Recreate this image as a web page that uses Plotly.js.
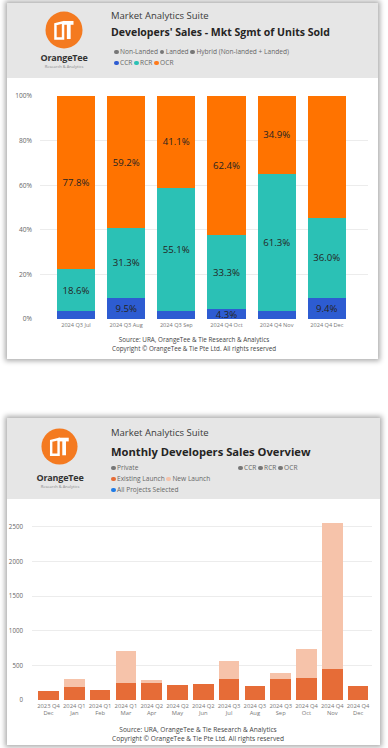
<!DOCTYPE html>
<html>
<head>
<meta charset="utf-8">
<script src="https://cdn.plot.ly/plotly-3.0.1.min.js"></script>
<style>
  html, body { margin:0; padding:0; background:#ffffff; }
  body { width:388px; height:748px; position:relative; overflow:hidden;
         font-family:"Segoe UI","Open Sans","Noto Sans",sans-serif; color:#333; }
  .card { position:absolute; background:#fff; box-shadow:0 0 5px 2px rgba(0,0,0,0.33); }
  .hdr { position:absolute; left:0; top:0; right:0; background:#e6e6e6; }
  .abs { position:absolute; white-space:nowrap; }
  .suite { font-size:9.5px; color:#3a3a3a; }
  .title { font-weight:700; color:#252423; }
  .leg { font-size:6.6px; color:#666; }
  .dot { display:inline-block; width:4.5px; height:4.5px; border-radius:50%; margin-right:1.5px; vertical-align:0px; }
  .src { font-size:6.3px; color:#444; text-align:center; width:388px; left:0; }
  .brand { font-weight:700; color:#333; font-size:9px; text-align:center; width:80px; letter-spacing:-0.2px; }
  .brandsub { color:#888; font-size:4px; text-align:center; width:80px; }
  .plot { position:absolute; left:0; width:388px; }
</style>
</head>
<body>

<!-- top card -->
<div class="card" style="left:7px; top:3px; width:371px; height:356px;">
  <div class="hdr" style="height:75px;"></div>
</div>
<!-- bottom card -->
<div class="card" style="left:7px; top:418px; width:373px; height:327px;">
  <div class="hdr" style="height:81px;"></div>
</div>

<!-- top header contents -->
<svg class="abs" style="left:45px; top:11px;" width="38" height="38" viewBox="0 0 40 40">
  <circle cx="20" cy="20" r="19.5" fill="#f47a20"/>
  <path d="M11,14 L19,12 L19,29 L11,29 Z" fill="none" stroke="#fff" stroke-width="2.6" stroke-linejoin="miter"/>
  <rect x="19" y="10.5" width="11" height="4" fill="#fff"/>
  <rect x="23" y="13" width="4" height="16.5" fill="#fff"/>
</svg>
<div class="abs brand" style="left:24px; top:51px;">OrangeTee</div>
<div class="abs brandsub" style="left:24px; top:63.5px;">Research &amp; Analytics</div>
<div class="abs suite" style="left:111px; top:9px;">Market Analytics Suite</div>
<div class="abs title" style="left:111px; top:25px; font-size:10.5px;">Developers' Sales - Mkt Sgmt of Units Sold</div>
<div class="abs leg" style="left:114px; top:47px;"><span class="dot" style="background:#777"></span>Non-Landed <span class="dot" style="background:#777"></span>Landed <span class="dot" style="background:#777"></span>Hybrid (Non-landed + Landed)</div>
<div class="abs leg" style="left:114px; top:58px;"><span class="dot" style="background:#2d5cd2"></span>CCR <span class="dot" style="background:#2bc1b5"></span>RCR <span class="dot" style="background:#ff7a1a"></span>OCR</div>

<div id="chart1" class="plot" style="top:80px; height:280px;"></div>
<div class="abs src" style="top:335px;">Source: URA, OrangeTee &amp; Tie Research &amp; Analytics</div>
<div class="abs src" style="top:344px;">Copyright © OrangeTee &amp; Tie Pte Ltd. All rights reserved</div>

<!-- bottom header contents -->
<svg class="abs" style="left:41px; top:428px;" width="37" height="37" viewBox="0 0 40 40">
  <circle cx="20" cy="20" r="19.5" fill="#f47a20"/>
  <path d="M11,14 L19,12 L19,29 L11,29 Z" fill="none" stroke="#fff" stroke-width="2.6" stroke-linejoin="miter"/>
  <rect x="19" y="10.5" width="11" height="4" fill="#fff"/>
  <rect x="23" y="13" width="4" height="16.5" fill="#fff"/>
</svg>
<div class="abs brand" style="left:20px; top:471px;">OrangeTee</div>
<div class="abs brandsub" style="left:20px; top:483.5px;">Research &amp; Analytics</div>
<div class="abs suite" style="left:111px; top:426px;">Market Analytics Suite</div>
<div class="abs title" style="left:111px; top:444px; font-size:11.2px;">Monthly Developers Sales Overview</div>
<div class="abs leg" style="left:111px; top:463px;"><span class="dot" style="background:#777"></span>Private</div>
<div class="abs leg" style="left:238px; top:463px;"><span class="dot" style="background:#777"></span>CCR <span class="dot" style="background:#777"></span>RCR <span class="dot" style="background:#777"></span>OCR</div>
<div class="abs leg" style="left:111px; top:474px;"><span class="dot" style="background:#e66c37"></span>Existing Launch <span class="dot" style="background:#f6c3aa"></span>New Launch</div>
<div class="abs leg" style="left:111px; top:485px;"><span class="dot" style="background:#1f7be6"></span>All Projects Selected</div>

<div id="chart2" class="plot" style="top:500px; height:245px;"></div>
<div class="abs src" style="top:725px; font-size:6.6px; left:4px;">Source: URA, OrangeTee &amp; Tie Research &amp; Analytics</div>
<div class="abs src" style="top:733.5px; font-size:6.6px; left:4px;">Copyright © OrangeTee &amp; Tie Pte Ltd. All rights reserved</div>

<script>
// ---------- Chart 1 data: market segment share of developer units sold (%) ----------
const segMonths = ['2024 Q3 Jul', '2024 Q3 Aug', '2024 Q3 Sep', '2024 Q4 Oct', '2024 Q4 Nov', '2024 Q4 Dec'];
const ccrShare = [3.6, 9.5, 3.8, 4.3, 3.8, 9.4];
const rcrShare = [18.6, 31.3, 55.1, 33.3, 61.3, 36.0];
const ocrShare = [77.8, 59.2, 41.1, 62.4, 34.9, 54.7];
const ccrLabelShown = [false, true, false, true, false, true];
const pctTicks = [0, 20, 40, 60, 80, 100];
const pctTickText = ['0%', '20%', '40%', '60%', '80%', '100%'];

// ---------- Chart 2 data: monthly developer sales (units) ----------
const quarterLabels = ['2023 Q4', '2024 Q1', '2024 Q1', '2024 Q1', '2024 Q2', '2024 Q2', '2024 Q2',
                       '2024 Q3', '2024 Q3', '2024 Q3', '2024 Q4', '2024 Q4', '2024 Q4'];
const monthLabels = ['Dec', 'Jan', 'Feb', 'Mar', 'Apr', 'May', 'Jun', 'Jul', 'Aug', 'Sep', 'Oct', 'Nov', 'Dec'];
const existingLaunch = [130, 184, 149, 242, 251, 213, 232, 309, 207, 309, 323, 450, 199];
const newLaunch = [0, 116, 0, 473, 39, 0, 0, 261, 0, 87, 421, 2112, 0];
const unitTicks = [0, 500, 1000, 1500, 2000, 2500];

const FONT = '"Segoe UI","Open Sans","Noto Sans",sans-serif';
const pct = v => v.toFixed(1) + '%';

const idx1 = segMonths.map((_, i) => i);
const labelFont = {family: FONT, size: 9.6, color: '#252423'};
function segTrace(vals, color, texts) {
  return {
    type: 'bar', x: idx1, y: vals, marker: {color: color, line: {width: 0}},
    width: 0.76, text: texts, textposition: 'inside', insidetextanchor: 'middle',
    textangle: 0, insidetextfont: labelFont, cliponaxis: false, hoverinfo: 'skip'
  };
}
const traces1 = [
  segTrace(ccrShare, '#2d5cd2', ccrShare.map((v, i) => ccrLabelShown[i] ? pct(v) : '')),
  segTrace(rcrShare, '#2bc1b5', rcrShare.map(pct)),
  segTrace(ocrShare, '#ff7300', ocrShare.map(pct))
];
const layout1 = {
  width: 388, height: 280, barmode: 'stack', showlegend: false,
  margin: {l: 40, r: 20, t: 16, b: 41},
  paper_bgcolor: 'rgba(0,0,0,0)', plot_bgcolor: 'rgba(0,0,0,0)',
  font: {family: FONT},
  uniformtext: {mode: 'show', minsize: 9.6},
  xaxis: {
    range: [-0.717, 5.82], tickmode: 'array', tickvals: idx1, ticktext: segMonths,
    tickfont: {family: FONT, size: 5.6, color: '#777'}, showgrid: false, zeroline: false,
    showline: false, ticks: '', ticklabelstandoff: 1
  },
  yaxis: {
    range: [0, 100], tickmode: 'array', tickvals: pctTicks, ticktext: pctTickText,
    tickfont: {family: FONT, size: 6.6, color: '#666'}, gridcolor: '#ececec', gridwidth: 1,
    zeroline: false, showline: false, ticks: '', ticklabelstandoff: 7
  }
};
Plotly.newPlot('chart1', traces1, layout1, {displayModeBar: false, staticPlot: true});

// ---------- Chart 2 ----------
const idx2 = monthLabels.map((_, i) => i);
const tickText2 = monthLabels.map((m, i) => quarterLabels[i] + '<br>' + m);
const traces2 = [
  {type: 'bar', x: idx2, y: existingLaunch, width: 0.8, marker: {color: '#e66c37'}, hoverinfo: 'skip'},
  {type: 'bar', x: idx2, y: newLaunch, width: 0.8, marker: {color: '#f6c3aa'}, hoverinfo: 'skip'}
];
const layout2 = {
  width: 388, height: 245, barmode: 'stack', showlegend: false,
  margin: {l: 32, r: 16, t: 17, b: 45},
  paper_bgcolor: 'rgba(0,0,0,0)', plot_bgcolor: 'rgba(0,0,0,0)',
  font: {family: FONT},
  xaxis: {
    range: [-0.64, 12.54], tickmode: 'array', tickvals: idx2, ticktext: tickText2,
    tickfont: {family: FONT, size: 5.8, color: '#777'}, showgrid: false, zeroline: false,
    showline: false, ticks: '', ticklabelstandoff: 1
  },
  yaxis: {
    range: [0, 2644], tickmode: 'array', tickvals: unitTicks, ticktext: unitTicks.map(String),
    tickfont: {family: FONT, size: 6.2, color: '#666'}, gridcolor: '#ececec', gridwidth: 1,
    zeroline: false, showline: false, ticks: '', ticklabelstandoff: 8
  }
};
Plotly.newPlot('chart2', traces2, layout2, {displayModeBar: false, staticPlot: true});
</script>
</body>
</html>
